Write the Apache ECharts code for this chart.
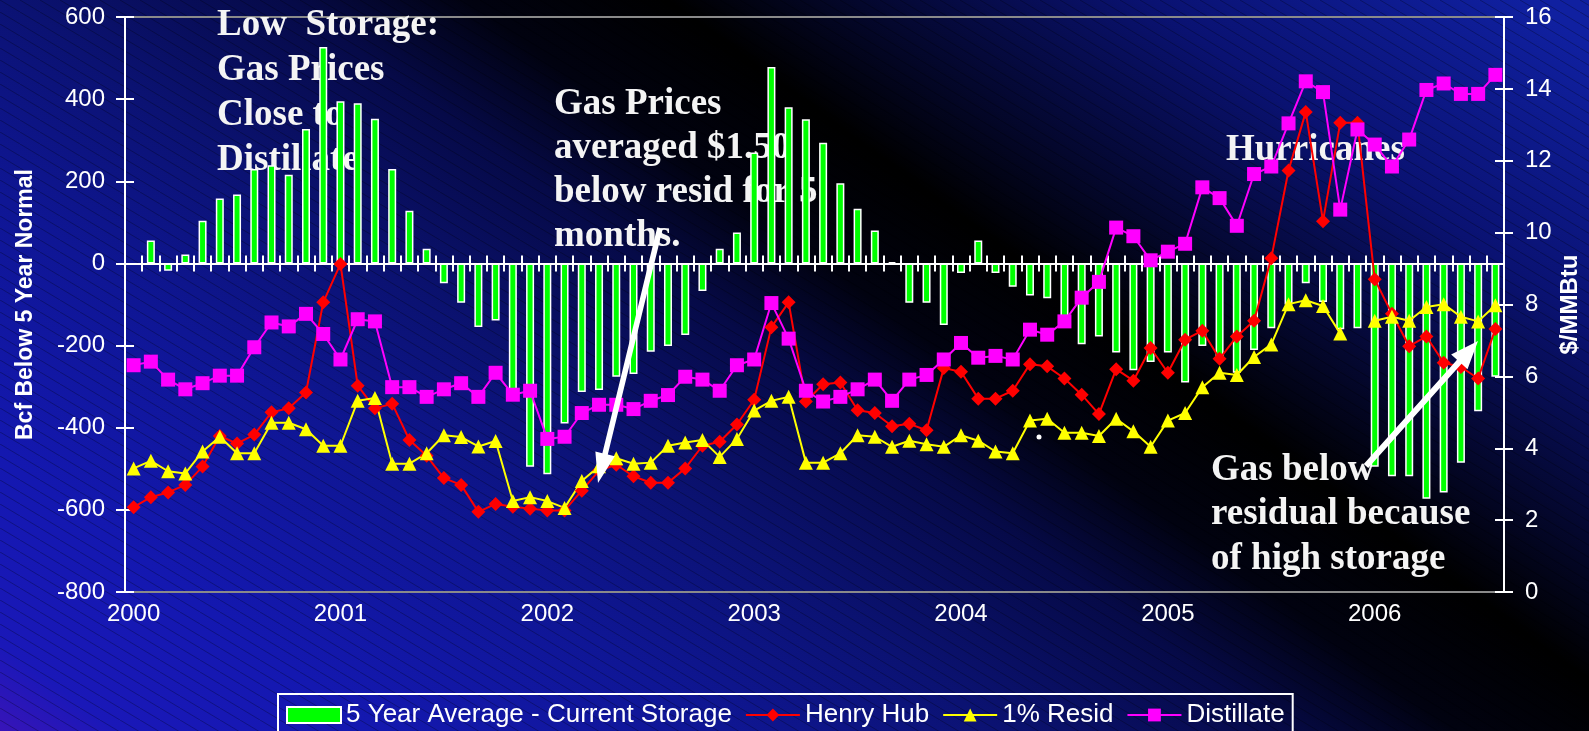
<!DOCTYPE html>
<html>
<head>
<meta charset="utf-8">
<script src="https://cdn.jsdelivr.net/npm/echarts@6/dist/echarts.min.js"></script>
<style>
  html, body { margin: 0; padding: 0; background: #000; }
  #chart { width: 1589px; height: 731px; }
</style>
</head>
<body>
<div id="chart"></div>
<script>
// monthly categories, Jan 2000 .. Aug 2006
const years = ['2000', '2001', '2002', '2003', '2004', '2005', '2006']
const months = []
years.forEach(y => {
  for (let m = 1; m <= 12; m++) {
    if (months.length < 80) months.push(y + '-' + String(m).padStart(2, '0'))
  }
})

// Bcf, 5 year average minus current storage
const storage = [null,
  56, -18, 22, 104, 158, 168, 230, 239, 216, 327, 527, 395,
  390, 352, 230, 128, 36, -48, -96, -155, -139, -308, -495, -513,
  -390, -313, -308, -276, -269, -215, -201, -174, -67, 36, 75, 270,
  478, 380, 351, 294, 195, 133, 80, 3, -96, -96, -150, -23,
  56, -23, -57, -78, -85, -135, -197, -178, -217, -260, -240, -217,
  -290, -201, -235, -266, -211, -158, -100, -48, -94, -160, -158, -495,
  -518, -518, -573, -558, -485, -360, -276]

// $/MMBtu
const henryHub = [
  2.36, 2.64, 2.77, 2.98, 3.49, 4.34, 4.13, 4.38, 5.00, 5.11, 5.55, 8.06,
  9.13, 5.74, 5.11, 5.24, 4.23, 3.79, 3.17, 2.98, 2.23, 2.45, 2.37, 2.32,
  2.27, 2.27, 2.82, 3.38, 3.54, 3.22, 3.04, 3.04, 3.44, 4.07, 4.18, 4.66,
  5.35, 7.37, 8.06, 5.30, 5.78, 5.83, 5.06, 4.98, 4.61, 4.68, 4.50, 6.23,
  6.13, 5.38, 5.38, 5.60, 6.34, 6.28, 5.94, 5.49, 4.95, 6.20, 5.88, 6.79,
  6.10, 7.02, 7.27, 6.49, 7.11, 7.55, 9.29, 11.73, 13.36, 10.32, 13.06, 13.06,
  8.70, 7.74, 6.84, 7.11, 6.38, 6.26, 5.94, 7.32]

const resid = [
  3.44, 3.65, 3.36, 3.30, 3.91, 4.32, 3.86, 3.86, 4.71, 4.71, 4.53, 4.07,
  4.07, 5.32, 5.40, 3.57, 3.57, 3.86, 4.36, 4.31, 4.05, 4.20, 2.53, 2.64,
  2.53, 2.34, 3.09, 3.50, 3.72, 3.57, 3.60, 4.07, 4.16, 4.23, 3.76, 4.26,
  5.05, 5.32, 5.43, 3.60, 3.60, 3.86, 4.36, 4.32, 4.04, 4.21, 4.11, 4.04,
  4.36, 4.21, 3.91, 3.86, 4.77, 4.82, 4.43, 4.43, 4.34, 4.82, 4.47, 4.04,
  4.77, 4.98, 5.70, 6.10, 6.04, 6.54, 6.89, 8.01, 8.12, 7.96, 7.19, null,
  7.55, 7.66, 7.55, 7.93, 8.01, 7.66, 7.53, 7.98]

const distillate = [
  6.31, 6.41, 5.91, 5.64, 5.81, 6.02, 6.02, 6.81, 7.50, 7.39, 7.74, 7.18,
  6.47, 7.59, 7.53, 5.70, 5.70, 5.43, 5.64, 5.81, 5.43, 6.10, 5.49, 5.60,
  4.26, 4.32, 4.98, 5.21, 5.21, 5.09, 5.32, 5.48, 5.99, 5.91, 5.60, 6.31,
  6.47, 8.04, 7.05, 5.60, 5.30, 5.43, 5.64, 5.91, 5.32, 5.91, 6.04, 6.47,
  6.93, 6.52, 6.57, 6.47, 7.30, 7.16, 7.53, 8.19, 8.63, 10.14, 9.90, 9.23,
  9.47, 9.69, 11.26, 10.96, 10.19, 11.63, 11.84, 13.04, 14.21, 13.91, 10.64, 12.87,
  12.45, 11.84, 12.59, 13.97, 14.15, 13.86, 13.86, 14.39]

const sans = '"Liberation Sans", Arial, sans-serif'
const serif = '"Liberation Serif", "Times New Roman", serif'
const white = '#ffffff'
const axisLineStyle = { color: white, width: 2 }

// faint diagonal hatching of the slide background
const hatch = document.createElement('canvas')
hatch.width = 20
hatch.height = 12
const hc = hatch.getContext('2d')
hc.strokeStyle = 'rgba(0,0,0,0.28)'
hc.lineWidth = 1
hc.beginPath()
hc.moveTo(-20, -12); hc.lineTo(40, 24)
hc.stroke()

// white block arrow as a polygon
function arrow(x1, y1, x2, y2, half, headLen, headHalf) {
  const dx = x2 - x1, dy = y2 - y1, L = Math.hypot(dx, dy)
  const ux = dx / L, uy = dy / L, nx = -uy, ny = ux
  const bx = x2 - ux * headLen, by = y2 - uy * headLen
  return {
    type: 'polygon', z: 100,
    shape: { points: [
      [x1 + nx * half, y1 + ny * half], [bx + nx * half, by + ny * half],
      [bx + nx * headHalf, by + ny * headHalf], [x2, y2],
      [bx - nx * headHalf, by - ny * headHalf], [bx - nx * half, by - ny * half],
      [x1 - nx * half, y1 - ny * half]
    ] },
    style: { fill: white }
  }
}

function note(x, y, text, lh) {
  return {
    type: 'text', z: 1, x: x, y: y,
    style: { text: text, fill: '#f4f4f4', font: 'bold 37px ' + serif, lineHeight: lh, verticalAlign: 'top' }
  }
}

const chart = echarts.init(document.getElementById('chart'))

const option = {
  animation: false,
  backgroundColor: {
    type: 'linear', global: true, x: 531, y: 1129, x2: 1422, y2: -77,
    colorStops: [
      { offset: 0, color: '#3a14b8' },
      { offset: 0.05, color: '#1a18b8' },
      { offset: 0.15, color: '#1418b0' },
      { offset: 0.29, color: '#0f1694' },
      { offset: 0.40, color: '#0b1272' },
      { offset: 0.51, color: '#060a48' },
      { offset: 0.58, color: '#010210' },
      { offset: 0.66, color: '#000000' },
      { offset: 0.85, color: '#0a1272' },
      { offset: 1, color: '#1020a0' }
    ]
  },
  grid: {
    left: 125, right: 85, top: 17, bottom: 139,
    show: true, borderColor: '#8a8a8a', borderWidth: 2,
    outerBoundsMode: 'none'
  },
  legend: {
    left: 278, top: 694,
    padding: [6, 8, 6, 8],
    itemGap: 13, itemWidth: 54, itemHeight: 16,
    borderColor: white, borderWidth: 2,
    textStyle: { color: white, fontSize: 26, fontFamily: sans, lineHeight: 30 },
    data: [
      { name: '5 Year Average - Current Storage', icon: 'rect' },
      'Henry Hub', '1% Resid', 'Distillate'
    ]
  },
  xAxis: [
    {
      type: 'category', data: months, position: 'bottom',
      axisLine: { onZero: true, onZeroAxisIndex: 0, lineStyle: axisLineStyle },
      axisTick: { show: true, interval: 0, length: 8, lineStyle: axisLineStyle },
      axisLabel: { show: false },
      splitLine: { show: false }
    },
    {
      type: 'category', data: months, position: 'bottom',
      axisLine: { show: false, onZero: false },
      axisTick: { show: false },
      axisLabel: {
        interval: 11, formatter: v => v.slice(0, 4),
        color: white, fontSize: 24, fontFamily: sans, margin: 10
      },
      splitLine: { show: false }
    },
    {
      type: 'category', data: months, position: 'bottom',
      axisLine: { onZero: true, onZeroAxisIndex: 0, lineStyle: axisLineStyle },
      axisTick: { show: true, inside: true, interval: 0, length: 8, lineStyle: axisLineStyle },
      axisLabel: { show: false },
      splitLine: { show: false }
    }
  ],
  yAxis: [
    {
      type: 'value', position: 'left', min: -800, max: 600, interval: 200,
      name: 'Bcf Below 5 Year Normal', nameLocation: 'middle', nameRotate: 90, nameGap: 88,
      nameMoveOverlap: false,
      nameTextStyle: { color: white, fontSize: 23, fontWeight: 'bold', fontFamily: sans },
      axisLine: { show: true, lineStyle: axisLineStyle },
      axisTick: { show: true, length: 9, lineStyle: axisLineStyle },
      axisLabel: { color: white, fontSize: 24, fontFamily: sans, margin: 20, showMinLabel: true, showMaxLabel: true },
      splitLine: { show: false }
    },
    {
      type: 'value', position: 'right', min: 0, max: 16, interval: 2,
      name: '$/MMBtu', nameLocation: 'middle', nameRotate: 90, nameGap: 54,
      nameMoveOverlap: false,
      nameTextStyle: { color: white, fontSize: 24, fontWeight: 'bold', fontFamily: sans },
      axisLine: { show: true, lineStyle: axisLineStyle },
      axisTick: { show: true, length: 9, lineStyle: axisLineStyle },
      axisLabel: { color: white, fontSize: 24, fontFamily: sans, margin: 21, showMinLabel: true, showMaxLabel: true },
      splitLine: { show: false }
    },
    {
      type: 'value', position: 'left', min: -800, max: 600, interval: 200,
      axisLine: { show: false },
      axisTick: { show: true, inside: true, length: 9, lineStyle: axisLineStyle },
      axisLabel: { show: false }, splitLine: { show: false }
    },
    {
      type: 'value', position: 'right', min: 0, max: 16, interval: 2,
      axisLine: { show: false },
      axisTick: { show: true, inside: true, length: 9, lineStyle: axisLineStyle },
      axisLabel: { show: false }, splitLine: { show: false }
    }
  ],
  series: [
    {
      name: '5 Year Average - Current Storage', type: 'bar',
      xAxisIndex: 0, yAxisIndex: 0, data: storage, barWidth: 8,
      itemStyle: { color: '#00ff00', borderColor: white, borderWidth: 1.5 }
    },
    {
      name: 'Henry Hub', type: 'line', xAxisIndex: 0, yAxisIndex: 1, data: henryHub,
      symbol: 'diamond', symbolSize: 14, showAllSymbol: true,
      lineStyle: { color: '#ff0000', width: 2 }, itemStyle: { color: '#ff0000' }
    },
    {
      name: '1% Resid', type: 'line', xAxisIndex: 0, yAxisIndex: 1, data: resid,
      symbol: 'triangle', symbolSize: 14, showAllSymbol: true, connectNulls: false,
      lineStyle: { color: '#ffff00', width: 2 }, itemStyle: { color: '#ffff00' }
    },
    {
      name: 'Distillate', type: 'line', xAxisIndex: 0, yAxisIndex: 1, data: distillate,
      symbol: 'rect', symbolSize: 14, showAllSymbol: true,
      lineStyle: { color: '#ff00ff', width: 2 }, itemStyle: { color: '#ff00ff' }
    }
  ],
  graphic: [
    {
      type: 'rect', z: -10, silent: true,
      shape: { x: 0, y: 0, width: 1589, height: 731 },
      style: { fill: { image: hatch, repeat: 'repeat' } }
    },
    note(217, 3, 'Low  Storage:\nGas Prices\nClose to\nDistillate', 45),
    note(554, 82, 'Gas Prices\naveraged $1.50\nbelow resid for 5\nmonths.', 44),
    note(1226, 128, 'Hurricanes', 44),
    note(1211, 448, 'Gas below\nresidual because\nof high storage', 44.5),
    arrow(660, 228, 598, 483, 2.8, 30, 10),
    arrow(1366, 466, 1478, 341, 3, 28, 11),
    { type: 'circle', z: 100, shape: { cx: 1039, cy: 437, r: 2.5 }, style: { fill: white } }
  ]
}

chart.setOption(option)
window.addEventListener('resize', () => chart.resize())
</script>
</body>
</html>
